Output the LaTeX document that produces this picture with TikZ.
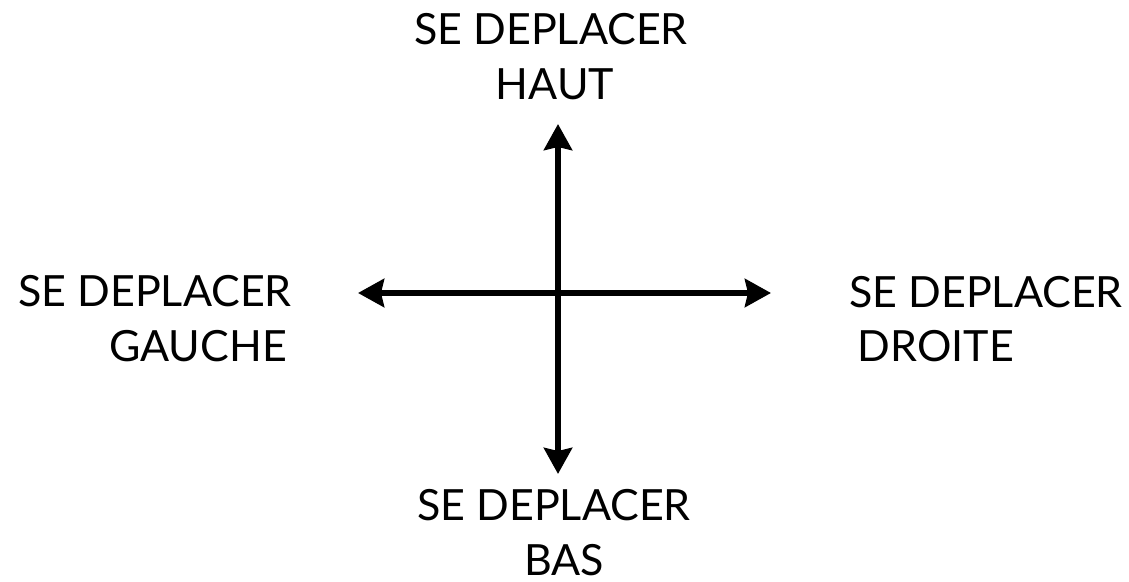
\documentclass[tikz,border=0pt]{standalone}
\usepackage{fontspec}
\setmainfont{Lato}
\usepackage{tikz}
\usetikzlibrary{positioning,arrows.meta}

\begin{document}
\begin{tikzpicture}[
		x=0.5pt, y=-0.5pt,
		label/.style={
			anchor=base,
			inner sep=0pt,
			font=\fontsize{21.5}{21.5}\selectfont
		},
		move/.style={
			{Stealth[length=13pt,width=14pt,inset=1.5pt]}-{Stealth[length=13pt,width=14pt,inset=1.5pt]},
			line width=3pt
		}
		]
		
		\useasboundingbox (0,0) rectangle (1129,582);
		
		% centre of the cross and arrow ends
		\coordinate (centre) at (558,293);
		\coordinate (up) at (558,124);
		\coordinate (down) at (558,474);
		\coordinate (left) at (358,293);
		\coordinate (right) at (771,293);
		
		\node[label] (haut1) at (551,45) {SE DEPLACER};
		\node[label] (haut2) at (555,100) {HAUT};
		
		\node[label] (gauche1) at (155,307) {SE DEPLACER};
		\node[label] (gauche2) at (198,362) {GAUCHE};
		
		\node[label] (droite1) at (986,308) {SE DEPLACER};
		\node[label] (droite2) at (936,362) {DROITE};
		
		\node[label] (bas1) at (554,520) {SE DEPLACER};
		\node[label] (bas2) at (564,575) {BAS};
		
		\draw[move] (down) -- (up);
		\draw[move] (left) -- (right);
		
	\end{tikzpicture}
\end{document}
